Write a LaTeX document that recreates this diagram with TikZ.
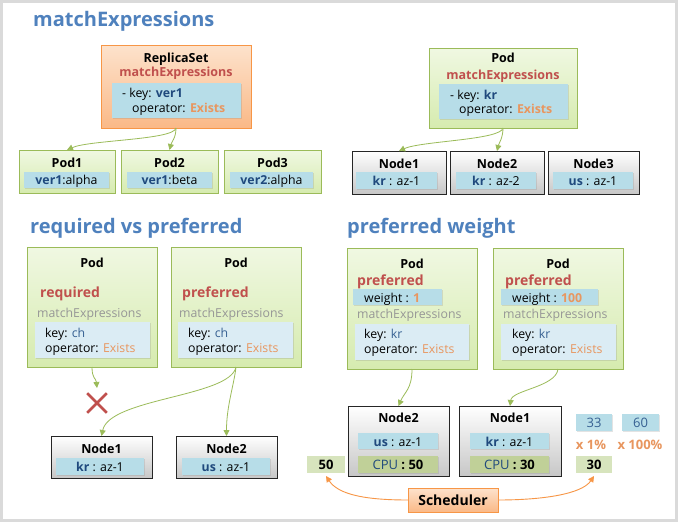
\documentclass[tikz,border=0pt]{standalone}
\usepackage{fontspec}
\setmainfont{Open Sans}
\usetikzlibrary{arrows.meta,shadows,shapes.misc}
\definecolor{ttlblue}{RGB}{79,129,189}
\definecolor{redtx}{RGB}{192,80,77}
\definecolor{orntx}{RGB}{232,150,95}
\definecolor{dblue}{RGB}{31,73,125}
\definecolor{mblue}{RGB}{54,96,146}
\definecolor{graytx}{RGB}{150,150,150}
\definecolor{lblue}{RGB}{183,221,232}
\definecolor{pblue}{RGB}{219,236,244}
\definecolor{grnb}{RGB}{155,187,89}
\definecolor{grn1}{RGB}{240,248,226}
\definecolor{grn2}{RGB}{214,235,175}
\definecolor{ornb}{RGB}{247,150,70}
\definecolor{orn1}{RGB}{253,226,204}
\definecolor{orn2}{RGB}{250,185,135}
\definecolor{olive}{RGB}{192,208,152}
\definecolor{lolive}{RGB}{215,228,189}
\definecolor{framegray}{RGB}{218,218,218}
\newcommand\fTitle{\fontsize{20}{23}\selectfont\bfseries}
\newcommand\fHead{\fontsize{12.5}{15}\selectfont\bfseries}
\newcommand\fRed{\fontsize{14}{16}\selectfont\bfseries}
\newcommand\fBody{\fontsize{12.3}{14}\selectfont}
\newcommand\fNum{\fontsize{13}{15}\selectfont}
\begin{document}
\begin{tikzpicture}[x=1pt,y=-1pt,
  shd/.style={drop shadow={shadow xshift=1.2pt,shadow yshift=-1.2pt,opacity=.22}},
  boxbase/.style={anchor=north west,inner sep=0pt,outer sep=0pt},
  gbox/.style={boxbase,shd,draw=grnb,line width=0.8pt,top color=grn1,bottom color=grn2},
  obox/.style={boxbase,shd,draw=ornb,line width=0.8pt,top color=orn1,bottom color=orn2},
  nbox/.style={boxbase,shd,draw=black!85,line width=0.8pt,top color=white,bottom color=black!22},
  bbox/.style={boxbase,shd,fill=lblue},
  pbbox/.style={boxbase,shd,fill=pblue},
  cbox/.style={boxbase,shd,fill=olive},
  lobox/.style={boxbase,fill=lolive},
  ttl/.style={anchor=base west,inner sep=0pt,font=\fTitle,text=ttlblue},
  hd/.style={anchor=base,inner sep=0pt,font=\fHead},
  rd/.style={inner sep=0pt,font=\fHead,text=redtx},
  rdb/.style={anchor=base west,inner sep=0pt,font=\fRed,text=redtx},
  tx/.style={anchor=base west,inner sep=0pt,font=\fBody},
  ctx/.style={anchor=base,inner sep=0pt,font=\fBody},
  ntx/.style={anchor=base,inner sep=0pt,font=\fNum},
  gtx/.style={anchor=base west,inner sep=0pt,font=\fBody,text=graytx},
  garrow/.style={draw=grnb,line width=0.8pt,-{Triangle[width=6pt,length=6pt]}},
  oarrow/.style={draw=ornb,line width=0.9pt,-{Triangle[width=6pt,length=6pt]}}
]
\useasboundingbox (0,0) rectangle (678,522);
\fill[white] (0,0) rectangle (678,522);
\draw[framegray,line width=3pt] (1.5,1.5) rectangle (676.5,520.5);

% ---------- Section 1 left
\node[ttl] (t1) at (33,27) {matchExpressions};
\node[obox,minimum width=150pt,minimum height=83pt] (rs) at (101,45) {};
\node[hd] (rsh) at (176,62) {ReplicaSet};
\node[rd,anchor=base] (rsm) at (176,76) {matchExpressions};
\node[bbox,minimum width=129pt,minimum height=35pt] (rsk) at (112,83) {};
\node[tx] (rsk1) at (122,97) {- key: \textbf{\color{dblue}ver1}};
\node[tx] (rsk2) at (132,112) {operator: \textbf{\color{orntx}Exists}};

\node[gbox,minimum width=96pt,minimum height=43pt] (p1) at (19,150) {};
\node[hd] (p1h) at (67,167) {Pod1};
\node[bbox,minimum width=85pt,minimum height=16pt] (p1k) at (24,172) {};
\node[ctx] (p1t) at (66.5,184) {\textbf{\color{dblue}ver1}:alpha};

\node[gbox,minimum width=97pt,minimum height=43pt] (p2) at (121,150) {};
\node[hd] (p2h) at (169.5,167) {Pod2};
\node[bbox,minimum width=85pt,minimum height=16pt] (p2k) at (127,172) {};
\node[ctx] (p2t) at (169.5,184) {\textbf{\color{dblue}ver1}:beta};

\node[gbox,minimum width=97pt,minimum height=43pt] (p3) at (224,150) {};
\node[hd] (p3h) at (272.5,167) {Pod3};
\node[bbox,minimum width=83pt,minimum height=16pt] (p3k) at (230,172) {};
\node[ctx] (p3t) at (271.5,184) {\textbf{\color{dblue}ver2}:alpha};

\draw[garrow] (rs.south) .. controls +(-2,12) and +(22,-10) .. (p1.north);
\draw[garrow] (rs.south) .. controls +(0,10) and +(2,-8) .. (p2.north);

% ---------- Section 1 right
\node[gbox,minimum width=148pt,minimum height=80pt] (pd) at (429,48) {};
\node[hd] (pdh) at (503,62) {Pod};
\node[rd,anchor=base] (pdm) at (503,79) {matchExpressions};
\node[bbox,minimum width=129pt,minimum height=35pt] (pdk) at (439,84) {};
\node[tx] (pdk1) at (450,99) {- key: \textbf{\color{dblue}kr}};
\node[tx] (pdk2) at (459,113) {operator: \textbf{\color{orntx}Exists}};

\node[nbox,minimum width=94pt,minimum height=43pt] (n1) at (352,151) {};
\node[hd] (n1h) at (399,168) {Node1};
\node[bbox,minimum width=81pt,minimum height=17pt] (n1k) at (356,172) {};
\node[ctx] (n1t) at (396.5,185) {\textbf{\color{dblue}kr} : az-1};

\node[nbox,minimum width=94pt,minimum height=43pt] (n2) at (450,151) {};
\node[hd] (n2h) at (497,168) {Node2};
\node[bbox,minimum width=80pt,minimum height=17pt] (n2k) at (456,172) {};
\node[ctx] (n2t) at (496,185) {\textbf{\color{dblue}kr} : az-2};

\node[nbox,minimum width=91pt,minimum height=43pt] (n3) at (548,151) {};
\node[hd] (n3h) at (593.5,168) {Node3};
\node[bbox,minimum width=80pt,minimum height=17pt] (n3k) at (553,172) {};
\node[ctx] (n3t) at (593,185) {\textbf{\color{dblue}us} : az-1};

\draw[garrow] (pd.south) .. controls +(-2,12) and +(22,-10) .. (n1.north);
\draw[garrow] (pd.south) .. controls +(0,10) and +(2,-8) .. (n2.north);

% ---------- Section 2: required vs preferred
\node[ttl] (t2) at (30,233) {required vs preferred};

\node[gbox,minimum width=130pt,minimum height=120pt] (rq) at (27,247) {};
\node[hd] (rqh) at (92,267) {Pod};
\node[rdb] (rqr) at (40,297) {required};
\node[gtx] (rqm) at (37,317) {matchExpressions};
\node[pbbox,minimum width=115pt,minimum height=36pt] (rqk) at (35,322) {};
\node[tx] (rqk1) at (45,337) {key: {\color{mblue}ch}};
\node[tx] (rqk2) at (45,352) {operator: {\color{orntx}Exists}};

\node[gbox,minimum width=130pt,minimum height=120pt] (pf) at (171,247) {};
\node[hd] (pfh) at (236,267) {Pod};
\node[rdb] (pfr) at (182,297) {preferred};
\node[gtx] (pfm) at (179,317) {matchExpressions};
\node[pbbox,minimum width=115pt,minimum height=36pt] (pfk) at (178,322) {};
\node[tx] (pfk1) at (188,337) {key: {\color{mblue}ch}};
\node[tx] (pfk2) at (188,352) {operator: {\color{orntx}Exists}};

\node[nbox,minimum width=101pt,minimum height=42pt] (m1) at (51,436) {};
\node[hd] (m1h) at (101.5,453) {Node1};
\node[bbox,minimum width=88pt,minimum height=17pt] (m1k) at (56,458) {};
\node[ctx] (m1t) at (100,471) {\textbf{\color{dblue}kr} : az-1};

\node[nbox,minimum width=101pt,minimum height=42pt] (m2) at (176,436) {};
\node[hd] (m2h) at (226.5,453) {Node2};
\node[bbox,minimum width=88pt,minimum height=17pt] (m2k) at (182,458) {};
\node[ctx] (m2t) at (226,471) {\textbf{\color{dblue}us} : az-1};

\coordinate (xend) at (97,388);
\draw[garrow] (rq.south) .. controls +(0,12) and +(-1,-10) .. (xend);
\node[draw=redtx,cross out,line width=2.6pt,minimum width=17pt,minimum height=17pt,inner sep=0pt] (xm) at (97,403) {};
\draw[garrow] (pf.south) .. controls +(-6,30) and +(8,-38) .. (m1.north);
\draw[garrow] (pf.south) .. controls +(-2,18) and +(0,-30) .. (m2.north);

% ---------- Section 3: preferred weight
\node[ttl] (t3) at (347,233) {preferred weight};

\node[gbox,minimum width=130pt,minimum height=121pt] (wl) at (347,248) {};
\node[hd] (wlh) at (412,268) {Pod};
\node[rdb] (wlr) at (357,285) {preferred};
\node[bbox,minimum width=89pt,minimum height=16pt] (wlw) at (353,289) {};
\node[tx] (wlwt) at (364,302) {weight : \textbf{\color{orntx}1}};
\node[gtx] (wlm) at (357,318) {matchExpressions};
\node[pbbox,minimum width=114pt,minimum height=36pt] (wlk) at (355,324) {};
\node[tx] (wlk1) at (364,338) {key: {\color{mblue}kr}};
\node[tx] (wlk2) at (364,353) {operator: {\color{orntx}Exists}};

\node[gbox,minimum width=130pt,minimum height=121pt] (wr) at (493,248) {};
\node[hd] (wrh) at (558,268) {Pod};
\node[rdb] (wrr) at (505,285) {preferred};
\node[bbox,minimum width=97pt,minimum height=16pt] (wrw) at (501,289) {};
\node[tx] (wrwt) at (512,302) {weight : \textbf{\color{orntx}100}};
\node[gtx] (wrm) at (503,318) {matchExpressions};
\node[pbbox,minimum width=115pt,minimum height=36pt] (wrk) at (501,324) {};
\node[tx] (wrk1) at (512,338) {key: {\color{mblue}kr}};
\node[tx] (wrk2) at (512,353) {operator: {\color{orntx}Exists}};

\node[nbox,minimum width=101pt,minimum height=70pt] (q2) at (348,406) {};
\node[hd] (q2h) at (398.5,422) {Node2};
\node[bbox,minimum width=80pt,minimum height=16pt] (q2k) at (358,433) {};
\node[ctx] (q2t) at (398,446) {\textbf{\color{dblue}us} : az-1};
\node[cbox,minimum width=80pt,minimum height=17pt] (q2c) at (358,456) {};
\node[ntx] (q2ct) at (398,469) {{\color{dblue}CPU} \textbf{: 50}};

\node[nbox,minimum width=102pt,minimum height=70pt] (q1) at (459,406) {};
\node[hd] (q1h) at (510,422) {Node1};
\node[bbox,minimum width=79pt,minimum height=16pt] (q1k) at (470,433) {};
\node[ctx] (q1t) at (509.5,446) {\textbf{\color{dblue}kr} : az-1};
\node[cbox,minimum width=79pt,minimum height=17pt] (q1c) at (470,456) {};
\node[ntx] (q1ct) at (509.5,469) {{\color{dblue}CPU} \textbf{: 30}};

\draw[garrow] (wl.south) .. controls +(0,20) and +(6,-14) .. (q2.north);
\draw[garrow] (wr.south) .. controls +(-2,18) and +(2,-16) .. (q1.north);

\node[bbox,minimum width=36pt,minimum height=17pt] (s33) at (576,414) {};
\node[ntx,text=mblue] (s33t) at (594,427) {33};
\node[bbox,minimum width=37pt,minimum height=17pt] (s60) at (622,414) {};
\node[ntx,text=mblue] (s60t) at (640.5,427) {60};
\node[ntx,font=\fNum\bfseries,text=orntx] (x1) at (591,449) {x 1\%};
\node[ntx,font=\fNum\bfseries,text=orntx] (x100) at (640,449) {x 100\%};
\node[lobox,minimum width=36pt,minimum height=17pt] (s30) at (576,456) {};
\node[ntx,font=\fNum\bfseries] (s30t) at (594,469) {30};
\node[lobox,minimum width=38pt,minimum height=17pt] (s50) at (307,456) {};
\node[ntx,font=\fNum\bfseries] (s50t) at (326,469) {50};

\node[obox,minimum width=90pt,minimum height=24pt] (sch) at (408,488) {};
\node[hd,font=\fontsize{14}{16}\selectfont\bfseries] (scht) at (453,505) {Scheduler};

\draw[oarrow] (sch.west) .. controls +(-45,0) and +(12,18) .. ([yshift=-3pt]s50.south);
\draw[oarrow] (sch.east) .. controls +(45,0) and +(-12,18) .. ([yshift=-3pt]s30.south);
\end{tikzpicture}
\end{document}
